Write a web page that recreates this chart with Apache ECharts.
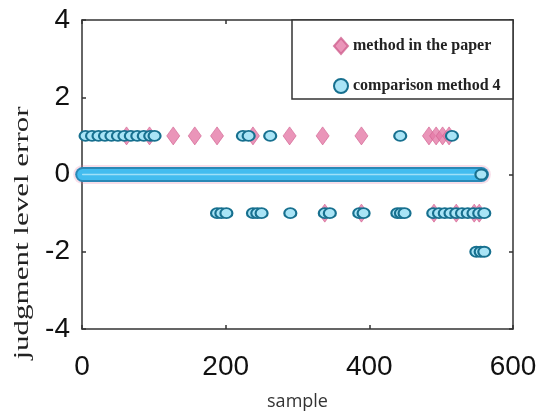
<!DOCTYPE html>
<html><head><meta charset="utf-8">
<script src="https://cdn.jsdelivr.net/npm/echarts@6/dist/echarts.min.js"></script>
<style>html,body{margin:0;padding:0;background:#fff}#c{width:544px;height:414px}</style>
</head><body><div id="c"></div>
<script>
// ---- data ----
const xTicks = [0, 200, 400, 600];
const yTicks = [-4, -2, 0, 2, 4];
const seriesNames = ['method in the paper', 'comparison method 4'];
// method in the paper: samples with error +1 / -1, and the span of samples with error 0
const paperUpX = [62, 94, 127, 157, 188, 238, 289, 335, 389, 483, 493, 502, 511];
const paperDownX = [338, 389, 490, 521, 546, 553];
const paperZeroSpan = [1, 556];
// comparison method 4
const cmpUpX = [5, 14, 23, 32, 41, 50, 59, 68, 77, 86, 95, 101, 224, 232, 262, 443, 515];
const cmpDownX = [188, 194, 201, 238, 244, 250, 290, 338, 345, 386, 392, 439, 444, 449,
                  489, 497, 505, 513, 521, 529, 537, 545, 553, 560];
const cmpDown2X = [549, 555, 560];
const cmpZeroSpan = [1, 556];
const cmpZeroEnd = [556];

const paperData = paperUpX.map(x => [x, 1]).concat(paperDownX.map(x => [x, -1]));
const cmpData = cmpUpX.map(x => [x, 1])
  .concat(cmpDownX.map(x => [x, -1]))
  .concat(cmpDown2X.map(x => [x, -2]))
  .concat(cmpZeroEnd.map(x => [x, 0]));
const zeroLine = span => span.map(x => [x, 0]);

const pink = '#e57ba7';
const blueFill = '#a9e4f6';
const blueBorder = '#17708f';

const axisLineStyle = { color: '#333', width: 1.5 };
const chart = echarts.init(document.getElementById('c'), null, { renderer: 'canvas' });
chart.setOption({
  animation: false,
  backgroundColor: '#fff',
  grid: { left: 82, right: 31, top: 20, bottom: 85, containLabel: false, outerBoundsMode: 'none' },
  xAxis: [{
    type: 'value', min: xTicks[0], max: xTicks[xTicks.length - 1], interval: 200, position: 'bottom',
    axisLine: { show: true, onZero: false, lineStyle: axisLineStyle },
    axisTick: { show: true, inside: true, length: 4, lineStyle: axisLineStyle },
    axisLabel: { fontSize: 28, margin: 24, color: '#111', fontFamily: 'Liberation Sans' },
    splitLine: { show: false },
    name: 'sample', nameLocation: 'middle', nameGap: 64,
    nameTextStyle: { fontSize: 18, color: '#333', fontFamily: 'Open Sans' }
  }, {
    type: 'value', min: xTicks[0], max: xTicks[xTicks.length - 1], interval: 200, position: 'top',
    axisLine: { show: true, onZero: false, lineStyle: axisLineStyle },
    axisTick: { show: true, inside: true, length: 4, lineStyle: axisLineStyle },
    axisLabel: { show: false }, splitLine: { show: false }
  }],
  yAxis: [{
    type: 'value', min: yTicks[0], max: yTicks[yTicks.length - 1], interval: 2, position: 'left',
    axisLine: { show: true, onZero: false, lineStyle: axisLineStyle },
    axisTick: { show: true, inside: true, length: 4, lineStyle: axisLineStyle },
    axisLabel: { fontSize: 28, margin: 12, color: '#111', fontFamily: 'Liberation Sans' },
    splitLine: { show: false }
  }, {
    type: 'value', min: yTicks[0], max: yTicks[yTicks.length - 1], interval: 2, position: 'right',
    axisLine: { show: true, onZero: false, lineStyle: axisLineStyle },
    axisTick: { show: true, inside: true, length: 4, lineStyle: axisLineStyle },
    axisLabel: { show: false }, splitLine: { show: false }
  }],
  legend: {
    data: [
      { name: seriesNames[0], icon: 'diamond' },
      { name: seriesNames[1], icon: 'circle' }
    ],
    orient: 'vertical', left: 328, top: 32, itemWidth: 14, itemHeight: 16, itemGap: 23, z: 10,
    textStyle: { fontSize: 16, fontWeight: 'bold', color: '#222', fontFamily: 'Liberation Serif' }
  },
  graphic: [{
    type: 'rect', z: 5, shape: { x: 292, y: 20, width: 221, height: 79 },
    style: { fill: '#fff', stroke: '#333', lineWidth: 1.5 }
  }, {
    type: 'text', x: 23, y: 233, rotation: Math.PI / 2, scaleX: 1.55, scaleY: 1,
    style: { text: 'judgment level error', font: '20px "Liberation Serif"', fill: '#222',
             align: 'center', verticalAlign: 'middle' }
  }],
  series: [
    { type: 'line', xAxisIndex: 0, yAxisIndex: 0, data: zeroLine(paperZeroSpan), showSymbol: false, silent: true,
      lineStyle: { width: 19, color: 'rgba(229,123,167,0.25)', cap: 'round' }, z: 1 },
    { name: seriesNames[0], type: 'scatter', xAxisIndex: 0, yAxisIndex: 0, data: paperData,
      symbol: 'diamond', symbolSize: [13, 18],
      itemStyle: { color: pink, borderColor: '#d0608f', borderWidth: 0.8 }, z: 2 },
    { type: 'line', data: zeroLine(cmpZeroSpan), showSymbol: false, silent: true,
      lineStyle: { width: 15, color: '#2a88b5', cap: 'round' }, z: 3 },
    { type: 'line', data: zeroLine(cmpZeroSpan), showSymbol: false, silent: true,
      lineStyle: { width: 11, color: '#43bcef', cap: 'round' }, z: 3 },
    { type: 'line', data: zeroLine(cmpZeroSpan), showSymbol: false, silent: true,
      lineStyle: { width: 1.5, color: '#9fe0f8', cap: 'round' }, z: 3 },
    { name: seriesNames[1], type: 'scatter', data: cmpData, symbol: 'circle', symbolSize: [12, 10],
      itemStyle: { color: blueFill, borderColor: blueBorder, borderWidth: 2, opacity: 1 }, z: 4 }
  ]
});
</script>
</body></html>
